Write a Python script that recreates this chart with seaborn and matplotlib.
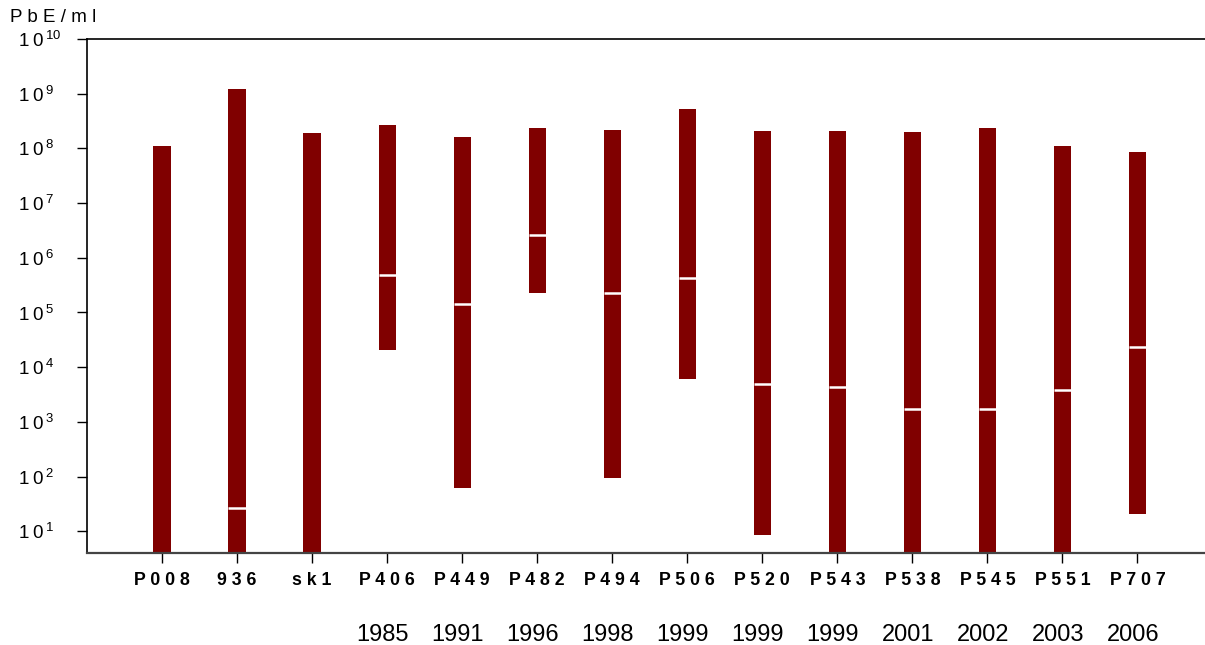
import matplotlib
matplotlib.use('Agg')
import matplotlib.pyplot as plt
import matplotlib.transforms as mtransforms
import seaborn as sns
import numpy as np
import pandas as pd

# strains, years of isolation and titre range (PbE/ml)
strains = ['P008', '936', 'sk1', 'P406', 'P449', 'P482', 'P494', 'P506',
           'P520', 'P543', 'P538', 'P545', 'P551', 'P707']
years = ['', '', '', '1985', '1991', '1996', '1998', '1999',
         '1999', '1999', '2001', '2002', '2003', '2006']
titre_max = [1.1e8, 1.22e9, 1.9e8, 2.7e8, 1.6e8, 2.35e8, 2.2e8, 5.2e8,
             2.1e8, 2.1e8, 2.0e8, 2.35e8, 1.1e8, 8.5e7]
# minimum below the axis floor -> 1
titre_min = [1, 1, 1, 2.05e4, 62, 2.3e5, 93, 6.0e3,
             8.5, 1, 1, 1, 1, 21]
titre_median = [np.nan, 26.7, np.nan, 4.9e5, 1.43e5, 2.6e6, 2.3e5, 4.3e5,
                4.9e3, 4.3e3, 1.7e3, 1.7e3, 3.8e3, 2.3e4]

df = pd.DataFrame({'strain': strains, 'max': titre_max, 'min': titre_min,
                   'median': titre_median})
df['span'] = df['max'] - df['min']

sns.set_theme(style='white')
plt.rcParams['font.family'] = ['Liberation Sans', 'DejaVu Sans']
plt.rcParams['mathtext.fontset'] = 'custom'
plt.rcParams['mathtext.rm'] = 'Liberation Sans'
plt.rcParams['mathtext.it'] = 'Liberation Sans'
for key in ['text.color', 'axes.labelcolor', 'xtick.color', 'ytick.color']:
    plt.rcParams[key] = 'black'

bar_color = '#800000'
bar_w = 0.23

fig = plt.figure(figsize=(12.05, 6.45), dpi=100)
ax = fig.add_axes([0.0722, 0.1426, 0.9278, 0.7969])
ax.set_yscale('log')

sns.barplot(data=df, x='strain', y='span', bottom=df['min'].values, order=strains,
            color=bar_color, saturation=1, width=bar_w, errorbar=None,
            linewidth=0, ax=ax)

# median markers
pos = np.arange(len(strains))
ax.hlines(df['median'], pos - bar_w / 2, pos + bar_w / 2, color='white', lw=1.8, zorder=3)

ax.set_ylim(4, 1e10)
ax.set_xlim(-1, 13.9)
ax.set_yticks([10.0 ** k for k in range(1, 11)])
ax.set_yticklabels([r'$1\;0^{\,%d}$' % k for k in range(1, 11)], fontsize=13.5)
for lab in ax.get_yticklabels():
    lab.set_ha('left')
ax.yaxis.set_minor_locator(matplotlib.ticker.NullLocator())
ax.set_xticks(pos)
ax.set_xticklabels([' '.join(s) for s in strains], fontsize=12.8, fontweight='bold')
ax.tick_params(axis='both', which='major', direction='out', length=7, width=1,
               color='black', left=True, bottom=True)
ax.tick_params(axis='y', pad=43)
ax.tick_params(axis='x', pad=7)
ax.set_xlabel('')
ax.set_ylabel('')

for side in ['left', 'top']:
    ax.spines[side].set_color('black')
    ax.spines[side].set_linewidth(1.2)
ax.spines['bottom'].set_color('#444444')
ax.spines['bottom'].set_linewidth(1.6)
ax.spines['right'].set_visible(False)

# years of isolation under the strain labels
trans = mtransforms.blended_transform_factory(ax.transData, ax.transAxes)
for i, yr in enumerate(years):
    if yr:
        ax.text(i - 0.06, -0.1586, yr, transform=trans, ha='center', va='center',
                fontsize=17)

fig.text(10 / 1205, 1 - 18 / 645, 'P b E / m l', ha='left', va='center', fontsize=13.5)

fig.savefig('out.png', dpi=100)
